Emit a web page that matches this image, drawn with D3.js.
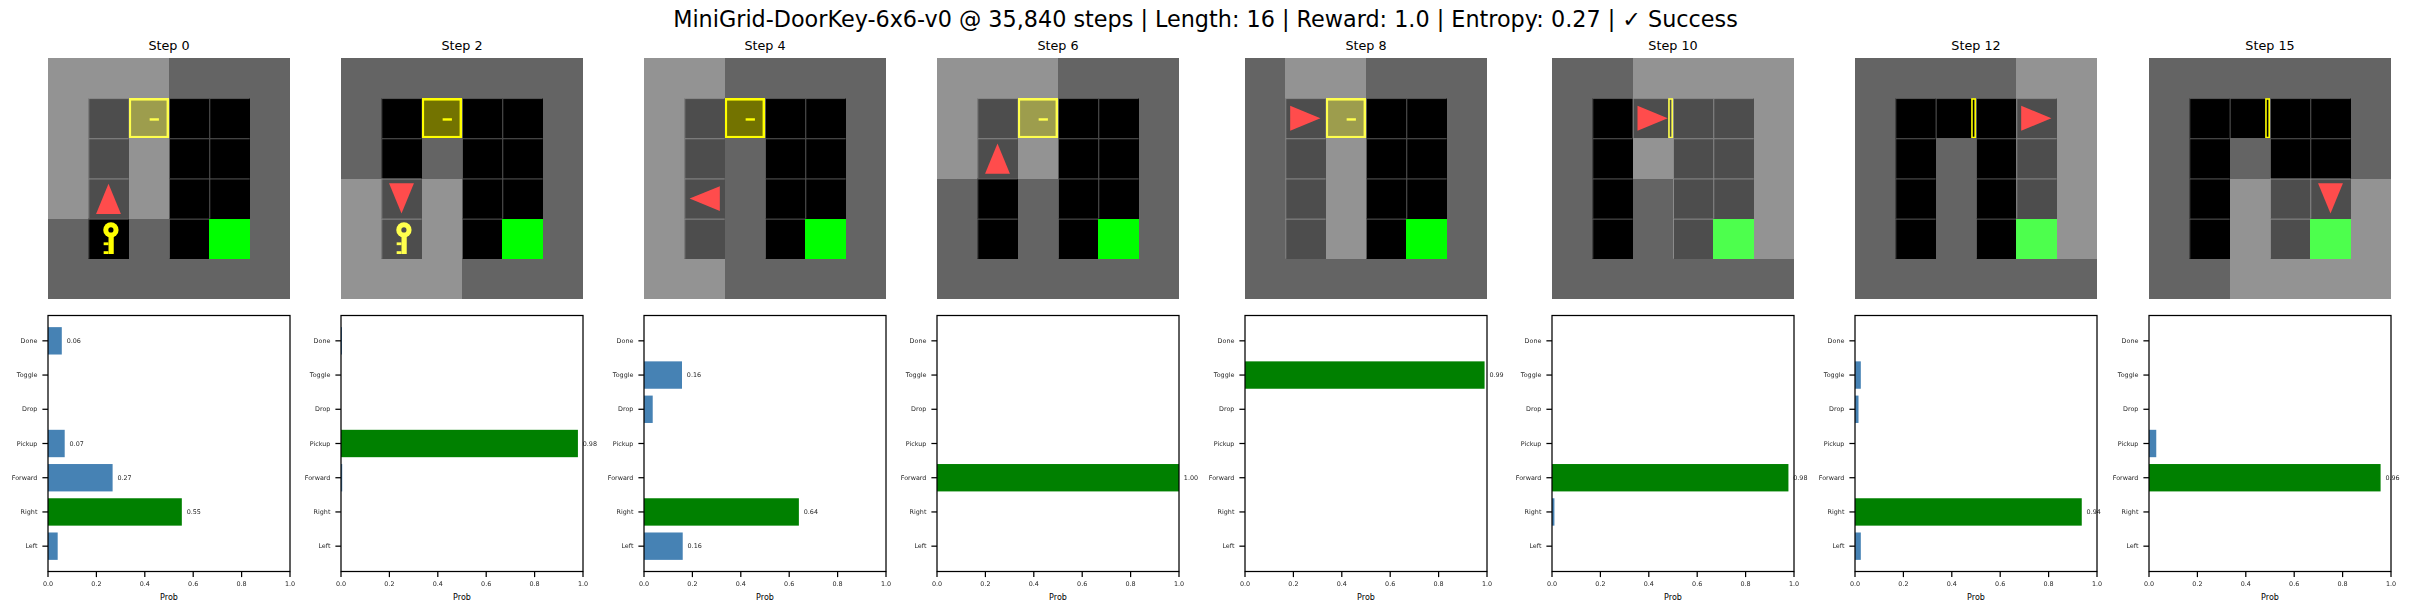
<!DOCTYPE html>
<html lang="en">
	<head>
		<meta charset="utf-8">
		<title>DoorKey episode</title>
		<script src="https://d3js.org/d3.v7.min.js"></script>
		<style>
			body { margin: 0; background: #fff; }
			svg { display: block; }
			text { font-family: "DejaVu Sans", sans-serif; fill: #000; }
			.tick text { fill: #262626; filter: blur(0.25px); }
			.val { fill: #262626; filter: blur(0.25px); }
			.grid { filter: blur(0.3px); }
		</style>
	</head>
	<body>
		<div id="chart"></div>
		<script>
			// chart data
			var figureTitle = "MiniGrid-DoorKey-6x6-v0 @ 35,840 steps | Length: 16 | Reward: 1.0 | Entropy: 0.27 | \u2713 Success";
			var steps = [0, 2, 4, 6, 8, 10, 12, 15];
			var actions = ["Left", "Right", "Forward", "Pickup", "Drop", "Toggle", "Done"];
			var probTicks = [0, 0.2, 0.4, 0.6, 0.8, 1];

			var probsStep0 = [0.04, 0.553, 0.267, 0.069, 0, 0, 0.057];
			var probsStep2 = [0, 0, 0.005, 0.979, 0, 0, 0.004];
			var probsStep4 = [0.16, 0.64, 0, 0, 0.036, 0.157, 0];
			var probsStep6 = [0, 0, 1, 0, 0, 0, 0];
			var probsStep8 = [0, 0, 0, 0, 0, 0.99, 0];
			var probsStep10 = [0, 0.01, 0.977, 0, 0, 0, 0];
			var probsStep12 = [0.024, 0.937, 0, 0, 0.0145, 0.024, 0];
			var probsStep15 = [0, 0, 0.957, 0.03, 0, 0, 0];
			var allProbs = [probsStep0, probsStep2, probsStep4, probsStep6, probsStep8, probsStep10, probsStep12, probsStep15];
			var chosen = ["Right", "Pickup", "Right", "Forward", "Toggle", "Forward", "Right", "Forward"];

			// the room: W wall, . floor, D door, G goal
			var room = ["WWWWWW", "W.D..W", "W.W..W", "W.W..W", "W.W.GW", "WWWWWW"];
			var agentRow = [3, 3, 3, 2, 1, 1, 1, 3];
			var agentCol = [1, 1, 1, 1, 1, 2, 4, 4];
			var agentDir = [3, 1, 2, 3, 0, 0, 0, 1]; // 0 right, 1 down, 2 left, 3 up
			var keyOnFloor = [true, true, false, false, false, false, false, false];
			var doorOpen = [false, false, false, false, false, true, true, true];
			var keyCell = [4, 1];

			// which tiles the agent sees in each step
			var seen0 = ["111000", "111000", "111000", "111000", "000000", "000000"];
			var seen2 = ["000000", "000000", "000000", "111000", "111000", "111000"];
			var seen4 = ["110000", "110000", "110000", "110000", "110000", "110000"];
			var seen6 = ["111000", "111000", "111000", "000000", "000000", "000000"];
			var seen8 = ["011000", "011000", "011000", "011000", "011000", "000000"];
			var seen10 = ["001111", "001111", "001111", "000111", "000111", "000000"];
			var seen12 = ["000011", "000011", "000011", "000011", "000011", "000000"];
			var seen15 = ["000000", "000000", "000000", "001111", "001111", "001111"];
			var allSeen = [seen0, seen2, seen4, seen6, seen8, seen10, seen12, seen15];

			// layout
			var W = 2411, H = 611;
			var panelLeft = [48, 341, 644, 937, 1245, 1552, 1855, 2149];
			var panelW = 242, gridTop = 58, gridH = 241, barTop = 315.5, barH = 256;
			var lineFrac = 0.022;

			var svg = d3.select("#chart").append("svg").attr("width", W).attr("height", H);

			svg.append("text")
				.attr("x", W / 2).attr("y", 26.7)
				.attr("text-anchor", "middle")
				.style("font-size", "22.3px")
				.text(figureTitle);

			function makeGrid(g, i) {
				var x = d3.scaleLinear().domain([0, 6]).range([0, panelW]);
				var y = d3.scaleLinear().domain([0, 6]).range([0, gridH]);
				var seen = allSeen[i];

				function lit(c, r, col) {
					// minigrid highlight blends 30% white in
					var rgb = d3.rgb(c);
					if (seen[r][col] != "1") return c;
					return d3.rgb(rgb.r + 0.3 * (255 - rgb.r), rgb.g + 0.3 * (255 - rgb.g), rgb.b + 0.3 * (255 - rgb.b)).formatHex();
				}

				function box(r, col, x0, x1, y0, y1, c) {
					var b = g.append("rect")
						.attr("x", x(col + x0)).attr("width", x(x1 - x0))
						.attr("y", y(r + y0)).attr("height", y(y1 - y0))
						.attr("fill", c);
					// whole tiles must not leave seams between them
					if (x1 - x0 == 1 && y1 - y0 == 1) b.attr("shape-rendering", "crispEdges");
				}

				room.forEach(function(line, r) {
					line.split("").forEach(function(t, col) {
						if (t == "W") {
							box(r, col, 0, 1, 0, 1, lit("#646464", r, col));
						} else if (t == "G") {
							box(r, col, 0, 1, 0, 1, lit("#00ff00", r, col));
						} else {
							box(r, col, 0, 1, 0, 1, lit("#000000", r, col));
							box(r, col, 0, lineFrac, 0, 1, lit("#646464", r, col));
							box(r, col, 0, 1, 0, lineFrac, lit("#646464", r, col));
						}
						if (t == "D" && doorOpen[i]) {
							box(r, col, 0.88, 1, 0, 1, lit("#ffff00", r, col));
							box(r, col, 0.92, 0.96, 0.04, 0.96, lit("#000000", r, col));
						} else if (t == "D") {
							box(r, col, 0, 1, 0, 1, lit("#ffff00", r, col));
							box(r, col, 0.06, 0.94, 0.06, 0.94, lit("#737300", r, col));
							box(r, col, 0.52, 0.75, 0.5, 0.56, lit("#ffff00", r, col));
						}
					});
				});

				if (keyOnFloor[i]) {
					var kr = keyCell[0], kc = keyCell[1], kcol = lit("#ffff00", kr, kc);
					box(kr, kc, 0.5, 0.63, 0.31, 0.88, kcol);
					box(kr, kc, 0.38, 0.5, 0.59, 0.66, kcol);
					box(kr, kc, 0.38, 0.5, 0.81, 0.88, kcol);
					g.append("circle").attr("cx", x(kc + 0.56)).attr("cy", y(kr + 0.28)).attr("r", x(0.19)).attr("fill", kcol);
					g.append("circle").attr("cx", x(kc + 0.56)).attr("cy", y(kr + 0.28)).attr("r", x(0.064)).attr("fill", lit("#000000", kr, kc));
				}

				// agent triangle, rotated about the middle of its tile
				var tri = d3.line()
					.x(function(p) { return x(p[0] - 0.5); })
					.y(function(p) { return y(p[1] - 0.5); });
				g.append("path")
					.attr("d", tri([[0.12, 0.19], [0.87, 0.5], [0.12, 0.81]]) + "Z")
					.attr("transform", "translate(" + x(agentCol[i] + 0.5) + "," + y(agentRow[i] + 0.5) + ") rotate(" + agentDir[i] * 90 + ")")
					.attr("fill", "#ff4c4c");
			}

			function makeBars(g, i) {
				var x = d3.scaleLinear().domain([0, 1]).range([0, panelW]);
				var y = d3.scaleBand().domain(actions).range([barH, 0]).paddingInner(0.2).paddingOuter(0.34);
				var probs = allProbs[i];

				g.selectAll(".bar")
					.data(actions)
					.enter().append("rect")
					.attr("class", "bar")
					.attr("x", x(0))
					.attr("y", function(d) { return y(d); })
					.attr("width", function(d, k) { return x(probs[k]); })
					.attr("height", y.bandwidth())
					.attr("fill", function(d) { return d == chosen[i] ? "green" : "steelblue"; });

				g.selectAll(".val")
					.data(actions.filter(function(d, k) { return probs[k] > 0.05; }))
					.enter().append("text")
					.attr("class", "val")
					.attr("x", function(d) { return x(probs[actions.indexOf(d)] + 0.02); })
					.attr("y", function(d) { return y(d) + y.bandwidth() / 2; })
					.attr("dy", "0.36em")
					.style("font-size", "6.4px")
					.text(function(d) { return d3.format(".2f")(probs[actions.indexOf(d)]); });

				g.append("g")
					.attr("transform", "translate(0," + barH + ")")
					.call(d3.axisBottom(x).tickValues(probTicks).tickFormat(d3.format(".1f")).tickSize(5.6).tickPadding(4).offset(0));
				g.append("g")
					.call(d3.axisLeft(y).tickSize(5.6).tickPadding(5).offset(0));
				g.selectAll(".domain").remove();
				g.selectAll(".tick line").attr("stroke", "#000").attr("stroke-width", 1.25);
				g.selectAll(".tick text").style("font-size", "6.4px").style("font-family", "'DejaVu Sans', sans-serif");

				g.append("rect")
					.attr("width", panelW).attr("height", barH)
					.attr("fill", "none").attr("stroke", "#000").attr("stroke-width", 1.25);

				g.append("text")
					.attr("x", panelW / 2).attr("y", barH + 28)
					.attr("text-anchor", "middle")
					.style("font-size", "8px")
					.text("Prob");
			}

			steps.forEach(function(s, i) {
				svg.append("text")
					.attr("x", panelLeft[i] + panelW / 2).attr("y", 50)
					.attr("text-anchor", "middle")
					.style("font-size", "12.75px")
					.text("Step " + s);

				makeGrid(svg.append("g").attr("class", "grid").attr("transform", "translate(" + panelLeft[i] + "," + gridTop + ")"), i);
				makeBars(svg.append("g").attr("transform", "translate(" + panelLeft[i] + "," + barTop + ")"), i);
			});
		</script>
	</body>
</html>
